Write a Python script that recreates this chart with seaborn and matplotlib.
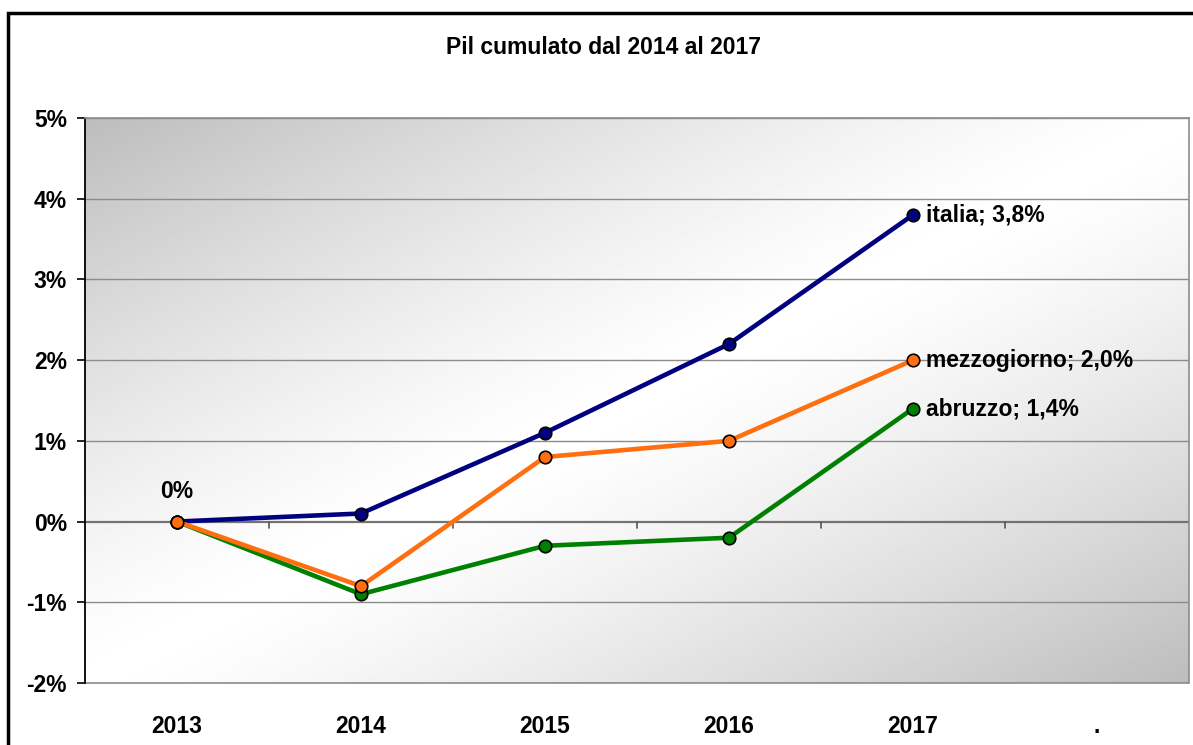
import numpy as np
import pandas as pd
import seaborn as sns
import matplotlib.pyplot as plt
from matplotlib.patches import Rectangle

# categorie (anni) e serie del pil cumulato, in %
anni = ['2013', '2014', '2015', '2016', '2017', '.']
anni_dati = ['2013', '2014', '2015', '2016', '2017']
italia = [0.0, 0.1, 1.1, 2.2, 3.8]
mezzogiorno = [0.0, -0.8, 0.8, 1.0, 2.0]
abruzzo = [0.0, -0.9, -0.3, -0.2, 1.4]
serie = ['italia', 'mezzogiorno', 'abruzzo']
colori = {'italia': '#000080', 'mezzogiorno': '#FF6F0F', 'abruzzo': '#008000'}
y_ticks = [-2, -1, 0, 1, 2, 3, 4, 5]

# tabella lunga per seaborn
rows = []
for nome, valori in zip(serie, [italia, mezzogiorno, abruzzo]):
    for anno, v in zip(anni_dati, valori):
        rows.append({'pos': anni.index(anno), 'valore': v, 'serie': nome})
df = pd.DataFrame(rows)

sns.set_style('white')
plt.rcParams['font.family'] = ['Liberation Sans', 'DejaVu Sans']
plt.rcParams['font.weight'] = 'bold'
plt.rcParams['text.color'] = 'black'
plt.rcParams['xtick.color'] = 'black'
plt.rcParams['ytick.color'] = 'black'

FS = 16.5
W, H = 1193, 745
fig = plt.figure(figsize=(W / 100, H / 100), dpi=100)
ax = fig.add_axes([85 / W, 62 / H, 1104 / W, 565 / H])

# sfondo sfumato dell'area del grafico
n = 300
u, v = np.meshgrid(np.linspace(0, 1, n), np.linspace(0, 1, n))
t = (u + v) / 2  # 0 in alto a sinistra, 1 in basso a destra (origin upper)
grad = 1 - 0.26 * np.abs(2 * t - 1) ** 1.3
ax.imshow(grad, cmap='gray', vmin=0, vmax=1, extent=(0, 1, 0, 1),
          transform=ax.transAxes, aspect='auto', zorder=0, origin='upper')

# griglia
for y in y_ticks:
    if y == 0:
        continue
    ax.axhline(y, color='#8c8c8c', lw=1.0, zorder=1)
ax.axhline(0, color='#737373', lw=1.6, zorder=1)

sns.lineplot(data=df, x='pos', y='valore', hue='serie', palette=colori,
             hue_order=['italia', 'abruzzo', 'mezzogiorno'], marker='o',
             markersize=9, markeredgecolor='black', markeredgewidth=1.2,
             linewidth=3.3, legend=False, ax=ax, zorder=3)

# etichette dati
for nome, valori in zip(serie, [italia, mezzogiorno, abruzzo]):
    ax.annotate(f"{nome}; {valori[-1]:.1f}%".replace('.', ','),
                xy=(anni.index(anni_dati[-1]), valori[-1]), xytext=(9, 0),
                textcoords='offset points', ha='left', va='center',
                fontsize=FS, fontweight='bold', zorder=4)
ax.annotate('0%', xy=(0, italia[0]), xytext=(0, 22), textcoords='offset points',
            ha='center', va='center', fontsize=FS, fontweight='bold')

ax.set_xlim(-0.5, len(anni) - 0.5)
ax.set_ylim(-2, 5)
ax.set_yticks(y_ticks)
ax.set_yticklabels([f'{y}%' for y in y_ticks], fontsize=FS, fontweight='bold')
ax.tick_params(axis='y', left=True, length=6, width=1.2, color='black', pad=7)

# asse x sulla linea dello zero con tacche ai confini delle categorie
ax.spines['bottom'].set_visible(False)
ax.set_xticks([])
for b in np.arange(0.5, len(anni) - 0.5, 1):
    ax.plot([b, b], [0, -0.08], color='#555555', lw=1.2, zorder=2)
sec = ax.secondary_xaxis('bottom')
sec.set_xticks(range(len(anni)))
sec.set_xticklabels(anni, fontsize=FS, fontweight='bold')
sec.tick_params(length=0, pad=23)
sec.spines['bottom'].set_visible(False)

ax.set_xlabel('')
ax.set_ylabel('')
ax.spines['left'].set_color('black')
ax.spines['left'].set_linewidth(1.3)
for s in ['top', 'right']:
    ax.spines[s].set_color('#8c8c8c')
    ax.spines[s].set_linewidth(1.2)
ax.add_patch(Rectangle((0, 0), 1, 0, transform=ax.transAxes, fill=False,
                       edgecolor='#8c8c8c', lw=1.2, clip_on=False))

fig.text(604 / W, 1 - 47 / H, 'Pil cumulato dal 2014 al 2017', ha='center',
         va='center', fontsize=FS, fontweight='bold')

# cornice del grafico
fig.patches.append(Rectangle((8 / W, -0.1), 1.2, 1 - 13 / H + 0.1,
                             transform=fig.transFigure, fill=False,
                             edgecolor='black', lw=2.5))

fig.savefig('out.png', dpi=100)
